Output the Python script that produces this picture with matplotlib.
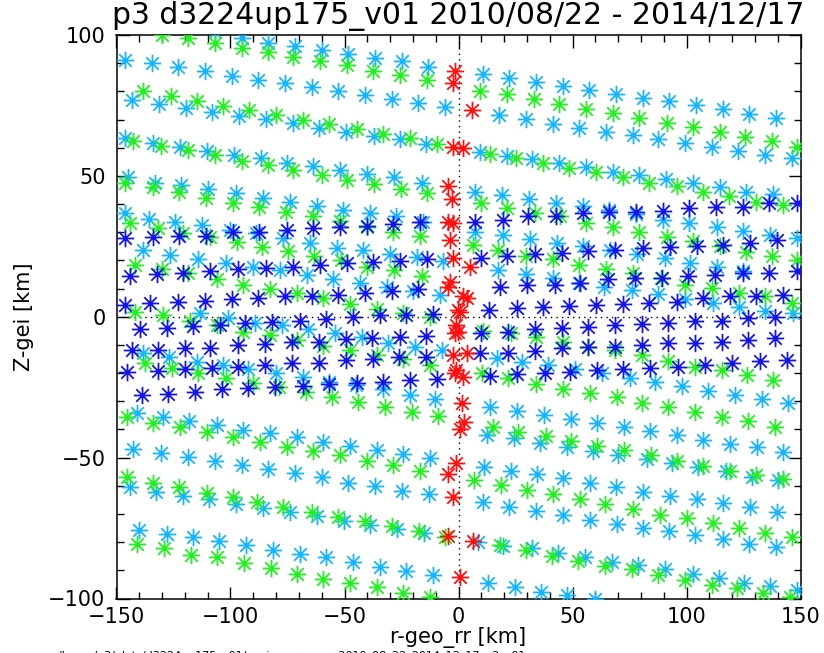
import matplotlib
matplotlib.use("Agg")
import matplotlib.pyplot as plt
from matplotlib.path import Path
from matplotlib.ticker import MultipleLocator

# ---------------- data (km) ----------------
title = "p3 d3224up175_v01 2010/08/22 - 2014/12/17"
xlabel = "r-geo_rr [km]"
ylabel = "Z-gei [km]"
xticks = [-150, -100, -50, 0, 50, 100, 150]
yticks = [-100, -50, 0, 50, 100]

cyan_x = [
    [-106.8,-95.1,-83.4,-71.7,-60.0,-48.3,-36.7,-25.0,-13.3,10.6,22.3,34.0,45.7,57.4,69.1,80.8,92.5,104.2,115.9,127.6,139.3],
    [-146.3,-134.6,-122.9,-111.2,-99.5,-87.8,-76.1,-64.4,-52.7,-41.0,-29.3,-17.6,-5.9,17.9,29.6,41.3,53.0,64.7,76.4,87.6,99.3,111.0,122.7,134.4,146.1],
    [-143.4,-131.2,-119.5,-107.9,-96.2,-84.5,-72.8,-61.1,-49.4,-37.1,-25.7,-14.3,9.4,21.1,32.1,44.2,55.9,67.6,79.3,91.0,103.0,114.7,126.1,137.8],
    [-146.3,-133.9,-122.2,-110.2,-98.5,-86.8,-75.1,-63.7,-52.0,-40.0,-28.3,-16.2,7.2,18.9,31.1,42.8,54.5,66.2,77.8,89.5,101.2,113.2,124.9,136.6,148.3],
    [-144.8,-133.1,-121.5,-109.8,-97.6,-85.9,-73.9,-62.2,-50.5,-38.9,-27.2,-15.5],
    [-146.3,-135.6,-124.4,-112.7,-100.3,-88.6,-76.9,-65.2,-53.5,-41.8,-30.1,-18.4,-6.7],
    [-138.3,-126.6,-114.1,-102.0,-90.0,-78.3,-66.6,-54.9,-43.2,-31.5,-19.8,-8.1],
    [7.2,19.4,31.4,43.0,54.8,66.5,78.2,90.6,101.5,113.2,124.9],
    [17.5,29.6,41.3,53.0,63.8,76.0,87.6,99.3,111.8,123.2,134.4,146.9],
    [-113.4,-101.0,-89.3,-77.6,-65.9,-54.2,-42.5,-30.8,-19.1,-7.4],
    [-138.3,-126.9,-114.9,-103.2,-92.2,-80.1,-68.4,-56.7,-45.0,-33.0,-21.3,-10.3],
    [16.7,27.7,39.4,51.1,62.8,75.2,86.2,97.9,109.6,121.3,133.0,144.7],
    [-141.2,-129.8,-118.1,-106.1,-94.4,-82.7,-71.0,-59.3,-47.6,-35.9,-24.2,-12.5],
    [13.8,25.5,37.5,49.2,60.9,72.6,84.0,95.7,107.4,119.1,130.8,142.5],
    [12.6,24.3,35.7,47.7,58.8,70.1,82.5,93.5,105.2,117.3,128.6,140.3],
    [-142.7,-130.7,-118.5,-106.8,-95.1,-83.4,-71.7,-60.0,-48.3,-36.7,-25.0,-12.8],
    [11.2,22.9,34.3,46.0,57.7,69.1,80.8,92.8,104.5,116.2,127.9,139.5],
    [-144.1,-132.7,-121.0,-109.3,-97.6,-85.9,-73.9,-62.2,-50.3,-38.9,-26.9,-15.2],
    [10.6,22.3,34.0,46.0,57.7,69.4,81.1,92.5,103.7,115.9,127.6,139.3],
    [-140.0,-128.0,-116.6,-104.9,-93.2,-81.5,-69.6,-57.9,-46.2,-34.5,-23.1,-11.1],
    [8.7,19.7,32.1,43.8,55.5,67.2,78.9,90.6,102.7,114.4,125.0,136.6,148.3],
    [13.1,24.8,36.0,47.7,59.9],
]
cyan_y = [
    [101.2,98.8,97.3,96.1,94.7,93.3,91.7,90.6,88.8,86.1,84.6,83.2,81.9,80.5,79.1,77.8,76.4,75.0,73.6,72.0,70.5],
    [91.2,90.0,88.6,87.4,85.6,84.1,82.9,81.5,80.2,78.7,77.3,76.0,74.6,71.6,70.1,68.4,67.1,65.7,64.5,63.2,61.8,60.4,59.0,57.4,56.3],
    [77.0,75.5,74.0,72.8,71.3,70.1,68.7,66.9,65.4,64.2,63.0,61.3,58.6,57.1,55.9,54.7,53.3,51.5,50.3,48.8,47.4,46.2,44.4,43.6],
    [63.4,61.8,60.4,59.0,57.4,56.2,54.7,53.5,52.1,50.7,49.5,47.6,44.4,43.2,41.7,40.5,39.3,37.9,36.6,34.4,33.2,31.8,30.5,29.0,27.9],
    [49.7,47.4,46.8,45.3,43.8,42.1,40.9,39.3,37.9,37.0,35.6,33.8],
    [37.0,34.6,33.8,32.6,30.8,29.9,27.9,26.1,24.3,23.7,22.3,21.1,19.9],
    [23.7,21.9,20.4,19.0,17.8,16.6,14.8,13.3,11.9,10.7,9.3,7.8],
    [30.2,29.0,27.5,26.3,25.1,23.7,22.3,20.8,19.0,17.6,16.4],
    [16.6,15.2,13.7,12.1,10.7,9.5,8.1,6.2,5.0,3.6,2.2,1.2],
    [1.2,-0.6,-2.1,-2.9,-4.5,-5.7,-7.3,-9.2,-10.6,-11.8],
    [-13.0,-14.4,-15.9,-17.1,-18.7,-19.9,-21.5,-23.1,-24.2,-25.8,-27.8,-29.3],
    [-14.8,-16.0,-17.1,-18.7,-20.1,-21.9,-23.1,-24.6,-26.2,-27.8,-29.3,-30.5],
    [-34.0,-35.7,-36.9,-38.4,-40.2,-41.4,-42.8,-44.3,-45.9,-47.3,-48.7,-50.3],
    [-31.9,-33.3,-34.9,-36.4,-37.8,-39.2,-40.4,-42.0,-43.7,-45.2,-46.3,-47.9],
    [-42.0,-43.2,-44.7,-46.1,-47.5,-49.1,-50.6,-52.0,-53.2,-54.6,-56.8,-57.9],
    [-47.1,-48.5,-49.7,-51.1,-52.6,-54.1,-55.6,-57.0,-58.9,-60.1,-61.7,-62.9],
    [-53.2,-54.6,-55.8,-57.4,-58.9,-60.5,-62.1,-63.6,-64.8,-66.0,-67.6,-69.2],
    [-60.3,-62.1,-63.6,-64.8,-66.5,-68.0,-69.2,-70.7,-72.4,-73.9,-75.5,-76.6],
    [-65.6,-67.4,-68.8,-70.4,-72.1,-73.6,-75.1,-75.9,-77.5,-79.0,-80.7,-81.8],
    [-75.7,-77.1,-78.3,-79.5,-81.0,-82.8,-84.2,-85.4,-86.9,-88.7,-90.1,-91.7],
    [-79.8,-81.4,-82.2,-84.0,-85.4,-87.0,-88.1,-89.6,-91.3,-92.8,-94.4,-95.6,-97.0],
    [-94.6,-96.0,-97.6,-98.8,-100.0],
]

green_x = [
    [-130.2,-118.5,-106.8,-95.1,-83.4,-72.5,-60.8,-49.1,-37.4,-25.7,-14.0,9.4,21.4,33.1,44.2,55.9,67.6,79.3,91.3,103.0,114.7,125.7,137.4,148.3],
    [-138.3,-126.3,-114.9,-103.2,-91.8,-80.1,-68.4,-56.7,-44.7,-33.0,-21.3,-9.3,13.8,25.2,36.9,48.6,60.3,72.0,83.7,95.7,107.4,118.8,130.5,142.2],
    [-142.7,-130.7,-118.5,-106.8,-95.1,-83.4,-72.5,-60.0,-49.1,-37.1,-25.4,-14.0,9.7,21.4,33.6,44.5,56.0,67.6,79.3,91.3,103.0,114.7,126.1,137.4,148.3],
    [-146.3,-133.9,-122.5,-110.8,-98.8,-87.4,-75.7,-63.7,-52.0,-40.3,-28.6,-16.9],
    [-144.1,-131.7,-120.7,-109.0,-97.3,-86.4,-74.7,-63.4,-51.7,-40.0,-28.3,-16.2],
    [-141.9,-130.2,-118.5,-106.1,-94.4,-82.7,-71.0,-59.3,-47.6,-35.9,-24.2,-12.5],
    [6.5,17.5,29.6,41.3,53.0,64.7,76.4,88.7,99.3,111.0,123.2,134.4,146.1],
    [-141.9,-129.5,-117.8,-106.1,-94.4,-82.7,-71.0,-59.3,-47.6,-35.9,-24.2,-12.5],
    [10.9,22.9,34.0,45.7,56.9,68.6,80.3,92.0,103.7,115.4,126.4,138.1],
    [-137.5,-125.8,-114.1,-102.0,-90.3,-78.6,-66.9,-55.7,-44.0,-32.3,-20.6,-8.9],
    [10.2,21.9,34.0,46.0,57.7,69.4,80.3,92.0,103.7,115.4,127.1,138.8],
    [-145.6,-133.9,-122.2,-110.2,-98.8,-87.1,-75.4,-63.7,-52.0,-40.3,-28.6,-16.9],
    [15.0,26.2,38.4,49.2,60.9,72.6,84.3,95.7,107.4,119.1,130.5,142.2],
    [-145.6,-134.2,-122.5,-110.5,-98.8,-88.3,-76.9,-64.4,-52.7,-41.0,-29.3,-17.2,-5.9],
    [6.8,18.5,29.9,41.6,53.3,64.3,76.4,88.4,100.1,111.5,123.2,134.4,146.1],
    [-140.9,-129.2,-117.5,-105.8,-94.1,-82.4,-71.0,-59.3,-47.6,-35.9,-24.2,-12.5],
    [18.2,29.6,40.9,52.6,64.3,76.0,87.6,99.3,111.0,122.0,133.7,145.4],
]
green_y = [
    [100.0,98.8,97.1,95.3,93.8,92.3,90.6,89.4,87.4,85.8,84.1,80.3,79.1,77.2,75.5,73.6,72.2,70.4,68.7,67.3,65.4,63.7,62.4,60.4],
    [80.2,78.4,76.6,74.8,73.4,71.6,69.9,68.4,66.7,64.8,63.4,61.3,57.8,56.3,54.5,52.7,51.2,49.5,47.6,46.4,44.4,42.9,40.9,39.7],
    [62.5,60.6,59.2,57.4,55.4,53.9,52.1,50.3,48.6,47.1,45.3,43.8,40.5,38.5,37.0,35.6,33.4,31.8,30.2,28.4,27.0,25.1,23.1,21.6,20.2],
    [47.4,46.0,44.1,42.1,40.5,39.1,37.3,35.6,34.1,32.0,30.2,28.7],
    [33.4,31.4,29.9,28.2,26.7,24.7,23.5,21.4,20.2,17.8,16.6,14.5],
    [18.4,16.9,15.5,13.3,11.3,9.8,8.3,6.6,4.6,2.7,1.2,-0.2],
    [25.5,23.7,21.6,20.4,18.4,16.9,15.4,13.7,11.3,10.1,8.3,7.2,5.0],
    [1.8,0.6,-1.4,-3.0,-5.3,-6.5,-8.3,-10.4,-11.8,-13.6,-15.1,-17.1],
    [-4.9,-5.7,-7.3,-8.8,-10.9,-11.8,-13.6,-15.6,-17.7,-18.9,-20.7,-22.5],
    [-16.5,-18.3,-20.1,-21.9,-23.4,-25.1,-26.6,-28.6,-30.1,-32.2,-33.7,-35.2],
    [-19.9,-21.9,-23.9,-25.8,-27.0,-28.6,-30.7,-32.2,-33.7,-35.5,-36.9,-39.0],
    [-35.5,-37.6,-39.2,-40.8,-42.6,-44.3,-46.1,-47.5,-49.1,-51.1,-52.6,-54.6],
    [-39.0,-40.8,-42.3,-44.0,-45.9,-47.3,-49.1,-51.1,-53.0,-54.6,-56.2,-57.7],
    [-56.8,-58.9,-60.5,-62.4,-63.9,-65.6,-67.4,-69.2,-71.2,-72.4,-74.3,-75.9,-78.0],
    [-57.9,-59.7,-61.5,-62.9,-64.8,-66.5,-68.4,-70.4,-71.5,-73.3,-75.1,-76.9,-78.3],
    [-80.7,-82.2,-84.6,-85.4,-87.5,-89.3,-91.3,-93.2,-94.4,-96.0,-97.9,-99.6],
    [-81.0,-82.8,-84.9,-86.6,-88.5,-89.6,-91.7,-93.4,-95.2,-96.4,-98.2,-99.3],
]

blue_x = [
    [-146.3,-134.2,-122.5,-110.8,-99.1,-87.4,-75.4,-64.0,-52.0,-40.3,-28.6,-16.9,7.2,19.4,30.6,42.8,54.5,66.2,77.8,89.5,101.2,112.9,124.6,136.3,148.3],
    [-144.1,-132.4,-120.7,-109.0,-96.6,-84.5,-72.5,-60.8,-49.1,-37.4,-25.7,-13.7,9.7,21.4,33.6,45.2,56.9,68.6,80.8,92.8,104.5,116.2,127.9,139.6],
    [-146.3,-135.3,-122.9,-111.2,-99.5,-87.8,-76.1,-64.4,-52.7,-41.0,-29.3,-17.6,18.2,30.2,42.3,53.3,65.7,77.4,89.1,100.8,112.5,124.6,136.3,148.3],
    [-139.7,-128.0,-116.3,-104.6,-93.7,-82.0,-69.6,-58.1,-46.2,-34.5,-23.1,-11.1,13.5,25.5,36.9,48.6,60.3,72.0,83.7,95.7,107.4,119.1,130.5,142.2],
    [-143.4,-131.7,-120.0,-109.0,-96.6,-84.9,-73.2,-61.1,-49.4,-38.1,-25.7,-14.3,9.7,21.9,33.6,45.2,56.9,68.6,80.3,92.0,103.7,115.4,127.1,138.8],
    [-145.6,-131.7,-120.0,-108.3,-96.6,-84.9,-73.2,-61.1,-49.4,-37.7,-26.0,-14.3,9.4,21.9,33.6,45.2,56.9,68.6,80.3,92.0,103.7,115.4,127.1,138.8],
    [-139.0,-127.3,-115.6,-103.9,-92.2,-80.5,-68.4,-56.7,-44.7,-33.0,-21.3,-9.6,13.8,25.5,37.9,48.9,60.6,72.3,84.0,96.4,108.1,119.8,132.2,143.9],
]
blue_y = [
    [27.9,28.2,28.8,28.8,30.2,30.2,30.8,31.4,32.0,32.2,33.0,33.8,33.8,34.4,35.6,35.8,36.7,37.3,37.3,37.7,38.5,39.1,39.1,40.3,40.5],
    [14.5,15.2,15.7,16.4,16.9,17.2,17.8,18.4,19.0,19.6,19.8,20.4,20.8,21.4,22.3,22.8,23.5,23.7,24.3,24.7,25.1,25.5,26.3,27.3],
    [4.2,4.8,5.4,5.7,6.2,6.8,7.2,7.5,7.7,8.6,9.2,9.8,10.5,11.3,11.3,12.1,13.3,13.7,13.7,14.5,14.8,15.4,15.7,16.4],
    [-4.5,-4.1,-3.3,-3.0,-2.1,-1.8,-1.4,-0.9,0.0,0.6,0.6,1.0,2.4,3.0,3.6,3.8,4.2,4.6,5.0,5.4,6.6,7.2,7.4,7.8],
    [-11.8,-11.8,-11.2,-11.0,-10.0,-9.8,-8.9,-8.9,-8.0,-7.7,-7.1,-6.8,-5.9,-5.3,-4.5,-4.1,-3.5,-2.9,-2.6,-2.1,-1.4,-1.4,-0.6,0.0],
    [-19.5,-19.1,-18.7,-18.1,-17.7,-17.1,-16.5,-16.3,-15.4,-15.1,-14.4,-14.2,-13.0,-12.8,-12.0,-11.2,-10.6,-10.6,-10.0,-9.4,-9.2,-8.8,-8.3,-7.7],
    [-27.8,-27.4,-26.6,-25.8,-25.4,-25.1,-24.6,-23.9,-23.6,-23.0,-22.5,-22.2,-21.0,-20.3,-19.9,-19.5,-18.9,-18.7,-18.3,-17.7,-17.1,-16.3,-15.6,-15.4],
]

red_x = [-1.6,-2.3,5.8,-2.3,2.1,-4.5,-3.0,-4.5,-2.3,-3.8,-2.3,5.0,-3.8,-4.5,2.1,3.6,0.6,-0.1,-0.9,-1.6,-0.1,-2.3,3.6,-0.9,-1.5,2.1,1.4,2.4,0.6,-0.9,-4.5,-2.3,-4.5,6.2,0.6]
red_y = [87.4,82.9,73.4,60.4,59.8,46.4,41.7,33.8,33.2,27.3,20.8,17.6,12.5,10.7,7.2,6.6,1.8,2.4,-2.9,-5.9,-5.3,-13.6,-13.0,-18.9,-20.0,-21.3,-30.7,-37.4,-39.9,-51.8,-55.8,-64.1,-77.8,-79.5,-92.5]

# ---------------- drawing ----------------
W, H = 824, 653
fig = plt.figure(figsize=(W / 100, H / 100), dpi=100)
L, R, T, B = 116.5, 800.5, 35.0, 598.5
ax = fig.add_axes([L / W, 1 - B / H, (R - L) / W, (B - T) / H])
ax.set_xlim(-150, 150)
ax.set_ylim(-100, 100)

d = 0.72
star = Path([(-1, 0), (1, 0), (0, -1), (0, 1), (-d, -d), (d, d), (-d, d), (d, -d)],
            [Path.MOVETO, Path.LINETO] * 4)

ax.axhline(0, color="black", lw=1.0, ls=(0, (1, 3)), zorder=1)
ax.axvline(0, color="black", lw=1.0, ls=(0, (1, 3)), zorder=1)

def flat(rows):
    out = []
    for r in rows:
        out.extend(r)
    return out

series = [
    (flat(cyan_x), flat(cyan_y), "#18b4ff"),
    (flat(green_x), flat(green_y), "#22ee22"),
    (flat(blue_x), flat(blue_y), "#1414e6"),
    (red_x, red_y, "#ff1010"),
]
for xs, ys, c in series:
    ax.plot(xs, ys, linestyle="none", marker=star, markersize=12.5,
            markeredgewidth=1.3, markeredgecolor=c, markerfacecolor="none", zorder=3)

ax.set_xticks(xticks)
ax.set_yticks(yticks)
ax.xaxis.set_minor_locator(MultipleLocator(10))
ax.yaxis.set_minor_locator(MultipleLocator(10))
ax.tick_params(which="both", direction="in", top=True, right=True, width=1.0, colors="black")
ax.tick_params(which="major", length=9, labelsize=15)
ax.tick_params(axis="x", which="major", pad=6)
ax.tick_params(axis="y", which="major", pad=8)
ax.tick_params(which="minor", length=5)
for s in ax.spines.values():
    s.set_linewidth(1.1)

ax.set_title(title, fontsize=21.5, pad=8)
ax.set_xlabel(xlabel, fontsize=15)
ax.set_ylabel(ylabel, fontsize=15)
ax.xaxis.set_label_coords(0.5, -(638 - B) / (B - T))
ax.yaxis.set_label_coords(-(L - 24) / (R - L), 0.5)
ax.xaxis.label.set_va("center")
ax.yaxis.label.set_va("center")

fig.text(58 / W, 1 - 658 / H, "/home/p3/plots/d3224up175_v01/zgei_vs_rgeo_rr_2010_08_22_2014_12_17_p3_v01.ps",
         fontsize=8, ha="left", va="baseline")

fig.savefig("out.png", dpi=100)
